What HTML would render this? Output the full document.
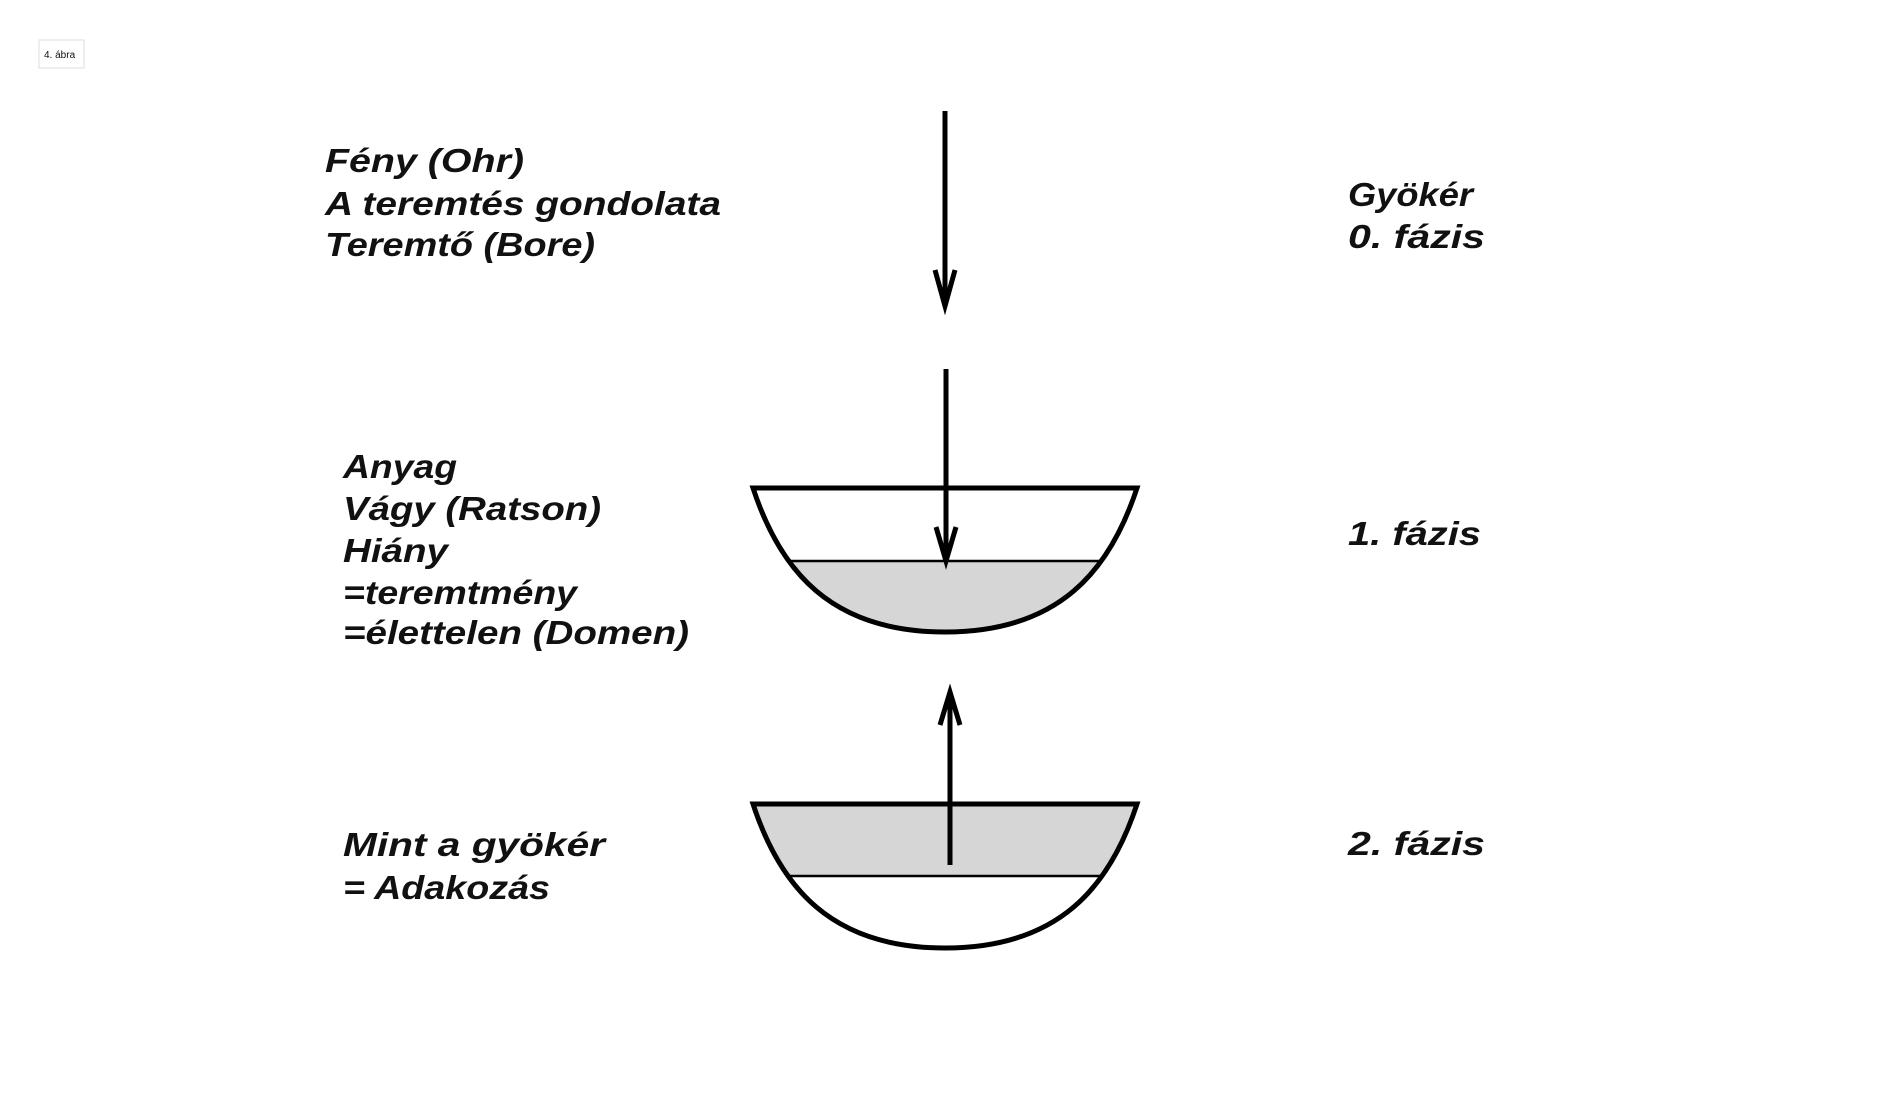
<!DOCTYPE html>
<html><head><meta charset="utf-8"><style>
html,body{margin:0;padding:0;background:#fff;}
svg{display:block;}
text{font-family:"Liberation Sans",sans-serif;font-style:italic;font-weight:bold;font-size:33px;fill:#111;}
</style></head><body>
<svg width="1889" height="1095" viewBox="0 0 1889 1095" xmlns="http://www.w3.org/2000/svg">
<defs>
<clipPath id="b1"><path d="M753,488 L1137,488 C1110,570 1060,632 945,632 C830,632 780,570 753,488 Z"/></clipPath>
<clipPath id="b2"><path d="M753,804 L1137,804 C1110,886 1060,948 945,948 C830,948 780,886 753,804 Z"/></clipPath>
</defs>
<rect x="39" y="40" width="45" height="28" fill="#fff" stroke="#ddd" stroke-width="1"/>
<text x="44" y="58" style="font-size:10px;font-style:normal;font-weight:normal">4. ábra</text>

<line x1="945" y1="111" x2="945" y2="300" stroke="#000" stroke-width="5"/>
<path d="M935,270 L945,306 L955,270" fill="none" stroke="#000" stroke-width="5"/>

<rect x="740" y="561" width="420" height="80" fill="#d6d6d6" clip-path="url(#b1)"/>
<line x1="790" y1="561" x2="1100" y2="561" stroke="#000" stroke-width="2.5" clip-path="url(#b1)"/>
<path d="M753,488 L1137,488 C1110,570 1060,632 945,632 C830,632 780,570 753,488 Z" fill="none" stroke="#000" stroke-width="5"/>
<line x1="946" y1="369" x2="946" y2="556" stroke="#000" stroke-width="5"/>
<path d="M936,527 L946,561 L956,527" fill="none" stroke="#000" stroke-width="5"/>

<rect x="740" y="804" width="420" height="72" fill="#d6d6d6" clip-path="url(#b2)"/>
<line x1="790" y1="876" x2="1100" y2="876" stroke="#000" stroke-width="2.5" clip-path="url(#b2)"/>
<path d="M753,804 L1137,804 C1110,886 1060,948 945,948 C830,948 780,886 753,804 Z" fill="none" stroke="#000" stroke-width="5"/>
<line x1="950" y1="696" x2="950" y2="865" stroke="#000" stroke-width="5"/>
<path d="M940,725 L950,692 L960,725" fill="none" stroke="#000" stroke-width="5"/>

<text x="325" y="172" textLength="199" lengthAdjust="spacingAndGlyphs">Fény (Ohr)</text>
<text x="325" y="215" textLength="396" lengthAdjust="spacingAndGlyphs">A teremtés gondolata</text>
<text x="325" y="256" textLength="270" lengthAdjust="spacingAndGlyphs">Teremtő (Bore)</text>

<text x="343" y="478" textLength="114" lengthAdjust="spacingAndGlyphs">Anyag</text>
<text x="343" y="520" textLength="258" lengthAdjust="spacingAndGlyphs">Vágy (Ratson)</text>
<text x="343" y="562" textLength="105" lengthAdjust="spacingAndGlyphs">Hiány</text>
<text x="343" y="604" textLength="234" lengthAdjust="spacingAndGlyphs">=teremtmény</text>
<text x="343" y="644" textLength="346" lengthAdjust="spacingAndGlyphs">=élettelen (Domen)</text>

<text x="343" y="856" textLength="262" lengthAdjust="spacingAndGlyphs">Mint a gyökér</text>
<text x="343" y="899" textLength="207" lengthAdjust="spacingAndGlyphs">= Adakozás</text>

<text x="1348" y="206" textLength="125" lengthAdjust="spacingAndGlyphs">Gyökér</text>
<text x="1348" y="248" textLength="137" lengthAdjust="spacingAndGlyphs">0. fázis</text>
<text x="1348" y="545" textLength="133" lengthAdjust="spacingAndGlyphs">1. fázis</text>
<text x="1348" y="855" textLength="137" lengthAdjust="spacingAndGlyphs">2. fázis</text>
</svg>
</body></html>
